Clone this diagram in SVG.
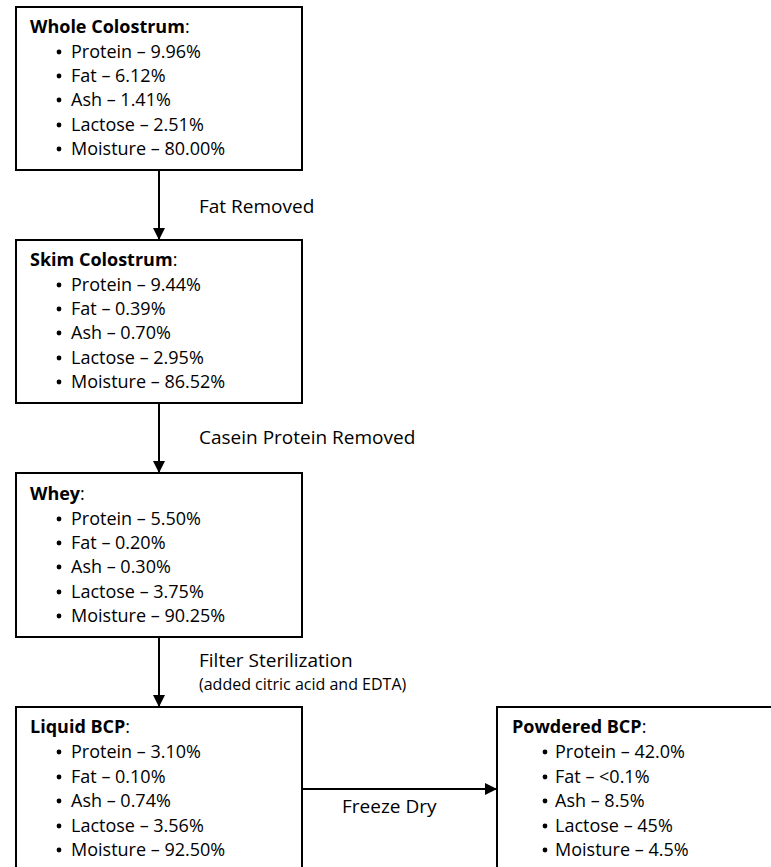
<svg xmlns="http://www.w3.org/2000/svg" width="771" height="867" viewBox="0 0 771 867">
<style>
.box{fill:#fff;stroke:#000;stroke-width:2}
text{font-family:"Open Sans","Liberation Sans",sans-serif;font-size:18px;fill:#000}
.t{font-weight:bold}
.l{font-size:19px}
.s{font-size:16px}
.bul{fill:#000}
.edge{stroke:#000;stroke-width:2;fill:none}
</style>
<defs>
<marker id="ah" markerWidth="12" markerHeight="12" viewBox="0 0 12 12" refX="11" refY="6" orient="auto" markerUnits="userSpaceOnUse">
<path d="M0,0 L12,6 L0,12 Z" fill="#000"/>
</marker>
</defs>
<rect width="771" height="867" fill="#fff"/>
<g id="connectors">
<line class="edge" x1="159" y1="170" x2="159" y2="239" marker-end="url(#ah)"/>
<line class="edge" x1="159" y1="403" x2="159" y2="472" marker-end="url(#ah)"/>
<line class="edge" x1="159" y1="637" x2="159" y2="706" marker-end="url(#ah)"/>
<line class="edge" x1="302" y1="789" x2="496" y2="789" marker-end="url(#ah)"/>
<text class="l" x="199" y="213">Fat Removed</text>
<text class="l" x="199" y="444">Casein Protein Removed</text>
<text class="l" x="199" y="667">Filter Sterilization</text>
<text class="s" x="199" y="690">(added citric acid and EDTA)</text>
<text class="l" x="342" y="813">Freeze Dry</text>
</g>
<g id="whole">
<rect class="box" x="16" y="7" width="286" height="163"/>
<text x="30" y="33"><tspan class="t">Whole Colostrum</tspan>:</text>
<g class="bul"><circle cx="59" cy="52" r="2.4"/><circle cx="59" cy="76" r="2.4"/><circle cx="59" cy="100" r="2.4"/><circle cx="59" cy="125" r="2.4"/><circle cx="59" cy="149" r="2.4"/></g>
<text x="71" y="58">Protein – 9.96%</text>
<text x="71" y="82">Fat – 6.12%</text>
<text x="71" y="106">Ash – 1.41%</text>
<text x="71" y="131">Lactose – 2.51%</text>
<text x="71" y="155">Moisture – 80.00%</text>
</g>
<g id="skim">
<rect class="box" x="16" y="240" width="286" height="163"/>
<text x="30" y="266"><tspan class="t">Skim Colostrum</tspan>:</text>
<g class="bul"><circle cx="59" cy="285" r="2.4"/><circle cx="59" cy="309" r="2.4"/><circle cx="59" cy="333" r="2.4"/><circle cx="59" cy="358" r="2.4"/><circle cx="59" cy="382" r="2.4"/></g>
<text x="71" y="291">Protein – 9.44%</text>
<text x="71" y="315">Fat – 0.39%</text>
<text x="71" y="339">Ash – 0.70%</text>
<text x="71" y="364">Lactose – 2.95%</text>
<text x="71" y="388">Moisture – 86.52%</text>
</g>
<g id="whey">
<rect class="box" x="16" y="473" width="286" height="164"/>
<text x="30" y="500"><tspan class="t">Whey</tspan>:</text>
<g class="bul"><circle cx="59" cy="519" r="2.4"/><circle cx="59" cy="543" r="2.4"/><circle cx="59" cy="567" r="2.4"/><circle cx="59" cy="592" r="2.4"/><circle cx="59" cy="616" r="2.4"/></g>
<text x="71" y="525">Protein – 5.50%</text>
<text x="71" y="549">Fat – 0.20%</text>
<text x="71" y="573">Ash – 0.30%</text>
<text x="71" y="598">Lactose – 3.75%</text>
<text x="71" y="622">Moisture – 90.25%</text>
</g>
<g id="liquid">
<rect class="box" x="16" y="707" width="286" height="180"/>
<text x="30" y="733"><tspan class="t">Liquid BCP</tspan>:</text>
<g class="bul"><circle cx="59" cy="752" r="2.4"/><circle cx="59" cy="777" r="2.4"/><circle cx="59" cy="801" r="2.4"/><circle cx="59" cy="826" r="2.4"/><circle cx="59" cy="850" r="2.4"/></g>
<text x="71" y="758">Protein – 3.10%</text>
<text x="71" y="783">Fat – 0.10%</text>
<text x="71" y="807">Ash – 0.74%</text>
<text x="71" y="832">Lactose – 3.56%</text>
<text x="71" y="856">Moisture – 92.50%</text>
</g>
<g id="powdered">
<rect class="box" x="497" y="707" width="300" height="180"/>
<text x="512" y="733"><tspan class="t">Powdered BCP</tspan>:</text>
<g class="bul"><circle cx="545" cy="752" r="2.4"/><circle cx="545" cy="777" r="2.4"/><circle cx="545" cy="801" r="2.4"/><circle cx="545" cy="826" r="2.4"/><circle cx="545" cy="850" r="2.4"/></g>
<text x="555" y="758">Protein – 42.0%</text>
<text x="555" y="783">Fat – &lt;0.1%</text>
<text x="555" y="807">Ash – 8.5%</text>
<text x="555" y="832">Lactose – 45%</text>
<text x="555" y="856">Moisture – 4.5%</text>
</g>
</svg>
